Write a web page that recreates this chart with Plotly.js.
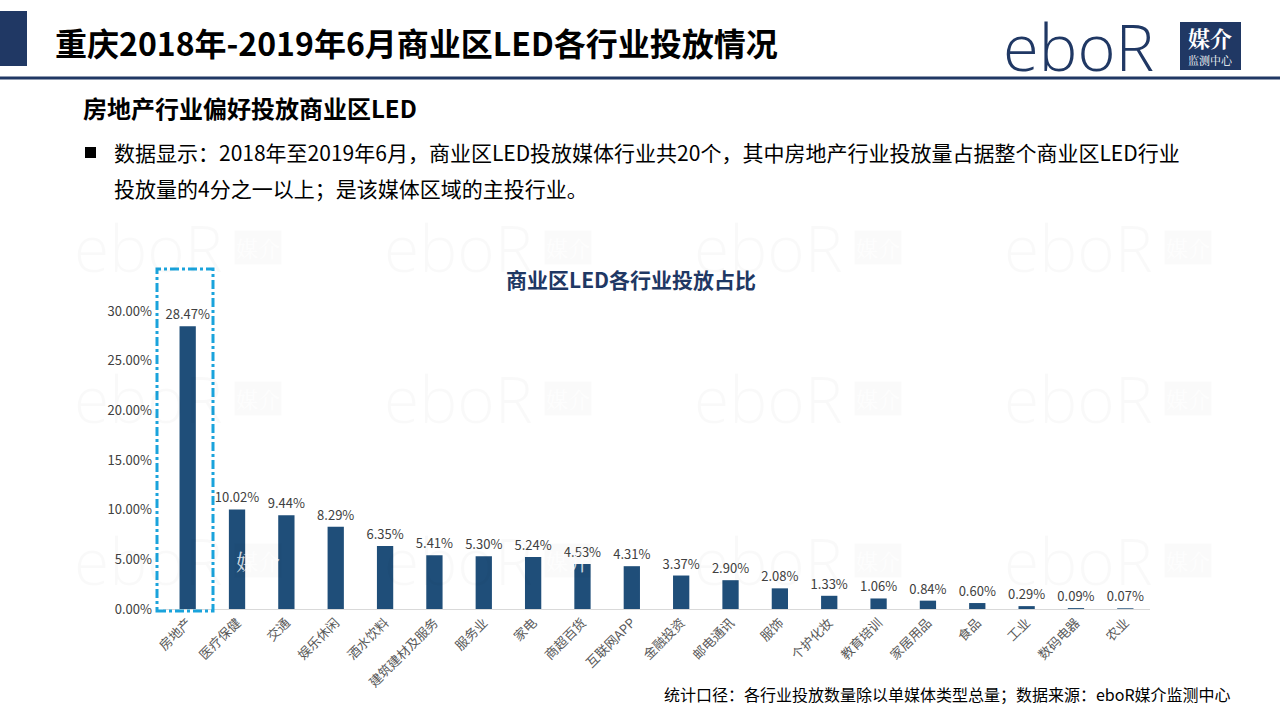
<!DOCTYPE html>
<html><head><meta charset="utf-8">
<script src="https://cdn.plot.ly/plotly-3.0.1.min.js"></script>
<style>html,body{margin:0;padding:0;background:#fff;}#chart{width:1280px;height:720px;}</style>
</head><body><div id="chart"></div>
<script>
const categories = ['房地产','医疗保健','交通','娱乐休闲','酒水饮料','建筑建材及服务','服务业','家电','商超百货','互联网APP','金融投资','邮电通讯','服饰','个护化妆','教育培训','家居用品','食品','工业','数码电器','农业'];
const shares = [28.47,10.02,9.44,8.29,6.35,5.41,5.30,5.24,4.53,4.31,3.37,2.90,2.08,1.33,1.06,0.84,0.60,0.29,0.09,0.07];
const yTickVals = [0,5,10,15,20,25,30];
const yTickText = ['0.00%','5.00%','10.00%','15.00%','20.00%','25.00%','30.00%'];

const W = 1280, H = 720;
const L = 163, R = 130, T = 311, B = 111;
const pw = W - L - R, ph = H - T - B;
const px = x => (x - L) / pw;
const py = y => (H - B - y) / ph;

const navy = '#203864';
const cjk = '"Noto Sans CJK SC", "Microsoft YaHei", sans-serif';
const logoFont = '"Open Sans", Roboto, sans-serif';

const trace = {
  type: 'bar',
  x: categories,
  y: shares,
  marker: {color: '#1F4E79'},
  width: 0.33,
  text: shares.map(v => v.toFixed(2) + '%'),
  textposition: 'outside',
  constraintext: 'none',
  cliponaxis: false,
  textfont: {family: cjk, size: 13, color: '#404040'},
  hoverinfo: 'skip'
};

const shapes = [
  {type:'rect', xref:'paper', yref:'paper', x0:px(0), x1:px(27), y0:py(66), y1:py(11), fillcolor:navy, line:{width:0}},
  {type:'line', xref:'paper', yref:'paper', x0:px(0), x1:px(1280), y0:py(78), y1:py(78), line:{color:navy, width:3}},
  {type:'rect', xref:'paper', yref:'paper', x0:px(1180), x1:px(1241), y0:py(70), y1:py(22), fillcolor:navy, line:{width:0}},
  {type:'rect', xref:'paper', yref:'paper', x0:px(157), x1:px(213), y0:py(611), y1:py(269), line:{color:'#1AA3DC', width:3, dash:'dashdot'}},
  {type:'rect', xref:'paper', yref:'paper', x0:px(85), x1:px(96), y0:py(158), y1:py(147), fillcolor:'#000', line:{width:0}}
];

const annotations = [];
const wmX = [148, 458, 768, 1078];
const wmY = [248, 398, 560];
wmY.forEach(yy => wmX.forEach(xx => {
  annotations.push({xref:'paper', yref:'paper', x:px(xx), y:py(yy), xanchor:'center', yanchor:'middle', showarrow:false,
    text:'eboR', font:{family:logoFont, size:64, color:'rgba(0,0,0,0.022)', weight:300}});
  annotations.push({xref:'paper', yref:'paper', x:px(xx+110), y:py(yy), xanchor:'center', yanchor:'middle', showarrow:false,
    text:'媒介', bgcolor:'rgba(0,0,0,0.02)', font:{family:'"Noto Serif CJK SC", serif', size:22, color:'rgba(255,255,255,0.8)'}});
}));
annotations.push(
  {xref:'paper', yref:'paper', x:px(53), y:py(42), xanchor:'left', yanchor:'middle', showarrow:false,
   text:'<b>重庆2018年-2019年6月商业区LED各行业投放情况</b>', font:{family:cjk, size:32, color:'#000'}},
  {xref:'paper', yref:'paper', x:px(1078), y:py(46), xanchor:'center', yanchor:'middle', showarrow:false,
   text:'eboR', font:{family:logoFont, size:65, color:navy, weight:300}},
  {xref:'paper', yref:'paper', x:px(1210), y:py(37), xanchor:'center', yanchor:'middle', showarrow:false,
   text:'<b>媒介</b>', font:{family:'"Noto Serif CJK SC", "Noto Sans CJK SC", serif', size:22, color:'#fff'}},
  {xref:'paper', yref:'paper', x:px(1210), y:py(60), xanchor:'center', yanchor:'middle', showarrow:false,
   text:'监测中心', font:{family:'"Noto Serif CJK SC", "Noto Sans CJK SC", serif', size:11, color:'#fff'}},
  {xref:'paper', yref:'paper', x:px(81), y:py(108), xanchor:'left', yanchor:'middle', showarrow:false,
   text:'<b>房地产行业偏好投放商业区LED</b>', font:{family:cjk, size:24, color:'#000'}},
  {xref:'paper', yref:'paper', x:px(112), y:py(152), xanchor:'left', yanchor:'middle', showarrow:false,
   text:'数据显示：2018年至2019年6月，商业区LED投放媒体行业共20个，其中房地产行业投放量占据整个商业区LED行业', font:{family:cjk, size:21, color:'#000'}},
  {xref:'paper', yref:'paper', x:px(112), y:py(188), xanchor:'left', yanchor:'middle', showarrow:false,
   text:'投放量的4分之一以上；是该媒体区域的主投行业。', font:{family:cjk, size:21, color:'#000'}},
  {xref:'paper', yref:'paper', x:px(631), y:py(279), xanchor:'center', yanchor:'middle', showarrow:false,
   text:'<b>商业区LED各行业投放占比</b>', font:{family:cjk, size:21, color:'#1F3864'}},
  {xref:'paper', yref:'paper', x:px(1233), y:py(694), xanchor:'right', yanchor:'middle', showarrow:false,
   text:'统计口径：各行业投放数量除以单媒体类型总量；数据来源：eboR媒介监测中心', font:{family:cjk, size:16, color:'#000'}}
);

const layout = {
  width: W, height: H,
  margin: {l: L, r: R, t: T, b: B, pad: 0},
  paper_bgcolor: '#fff', plot_bgcolor: 'rgba(0,0,0,0)',
  showlegend: false,
  xaxis: {
    type: 'category',
    tickangle: -45,
    tickfont: {family: cjk, size: 13, color: '#595959'},
    showline: true, linecolor: '#D9D9D9', linewidth: 1,
    showgrid: false, ticks: '', fixedrange: true
  },
  yaxis: {
    range: [0, 30],
    tickvals: yTickVals, ticktext: yTickText,
    tickfont: {family: cjk, size: 13, color: '#404040'},
    showgrid: false, zeroline: false, showline: false, ticks: '',
    ticklabelstandoff: 10, fixedrange: true
  },
  shapes: shapes,
  annotations: annotations
};

Plotly.newPlot('chart', [trace], layout, {displayModeBar: false, staticPlot: true});
</script>
</body></html>
